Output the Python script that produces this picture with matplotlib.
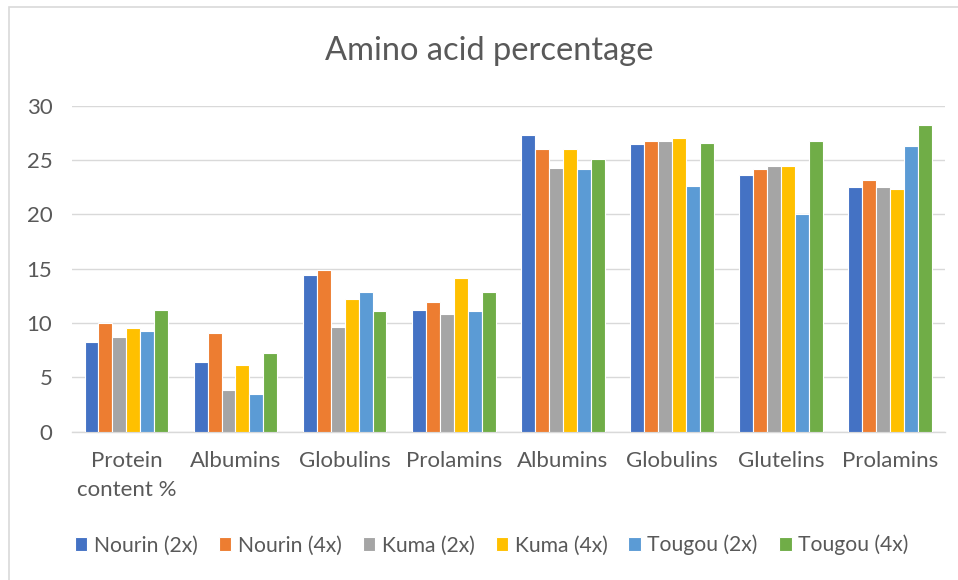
import matplotlib
matplotlib.use("Agg")
import matplotlib.pyplot as plt
from matplotlib.patches import Rectangle
import numpy as np

plt.rcParams['font.family'] = ['Lato', 'DejaVu Sans']

categories = ["Protein\ncontent %", "Albumins", "Globulins", "Prolamins",
              "Albumins", "Globulins", "Glutelins", "Prolamins"]

series_names = ["Nourin (2x)", "Nourin (4x)", "Kuma (2x)",
                "Kuma (4x)", "Tougou (2x)", "Tougou (4x)"]

nourin_2x = [8.25, 6.4, 14.4, 11.2, 27.3, 26.45, 23.6, 22.55]
nourin_4x = [10.0, 9.1, 14.85, 11.9, 26.0, 26.8, 24.2, 23.15]
kuma_2x = [8.7, 3.8, 9.65, 10.85, 24.3, 26.8, 24.45, 22.55]
kuma_4x = [9.55, 6.1, 12.25, 14.15, 26.0, 27.0, 24.45, 22.3]
tougou_2x = [9.3, 3.5, 12.85, 11.1, 24.2, 22.65, 20.05, 26.3]
tougou_4x = [11.2, 7.2, 11.1, 12.85, 25.1, 26.55, 26.8, 28.2]

series_values = [nourin_2x, nourin_4x, kuma_2x, kuma_4x, tougou_2x, tougou_4x]
colors = ["#4472C4", "#ED7D31", "#A5A5A5", "#FFC000", "#5B9BD5", "#70AD47"]

text_color = "#595959"
grid_color = "#D9D9D9"

fig = plt.figure(figsize=(9.58, 5.8), dpi=100)
ax = fig.add_axes([0.075, 0.2557, 0.911, 0.562])

x = np.arange(len(categories))
bar_w = 0.128
n = len(series_values)
for i, (name, vals, c) in enumerate(zip(series_names, series_values, colors)):
    offs = (i - (n - 1) / 2) * bar_w
    ax.bar(x + offs, vals, width=bar_w, color=c, edgecolor="white",
           linewidth=0.8, label=name, zorder=3)

ax.set_xlim(-0.5, len(categories) - 0.5)
ax.set_ylim(0, 30)
ax.set_yticks(np.arange(0, 31, 5))
ax.grid(axis="y", color=grid_color, linewidth=1.0, zorder=0)
for s in ["top", "right", "left"]:
    ax.spines[s].set_visible(False)
ax.spines["bottom"].set_color(grid_color)
ax.spines["bottom"].set_linewidth(1.0)
ax.tick_params(axis="both", length=0, labelsize=16, labelcolor=text_color)
ax.tick_params(axis="y", pad=14)
ax.tick_params(axis="x", pad=14)
ax.set_xticks(x)
ax.set_xticklabels(categories, linespacing=1.55)

fig.text(0.511, 0.912, "Amino acid percentage", ha="center", va="center",
         fontsize=23.5, color=text_color)

leg = fig.legend(loc="center", bbox_to_anchor=(0.513, 0.06), ncol=6,
                 frameon=False, fontsize=15.2, labelcolor=text_color,
                 handlelength=0.6, handleheight=0.6, handletextpad=0.3,
                 columnspacing=1.0)

# outer chart border
fig.patches.append(Rectangle((9 / 958, -0.05), 1.1, 1.05 - 7 / 580,
                             transform=fig.transFigure, fill=False,
                             edgecolor=grid_color, linewidth=1.2))

fig.savefig("out.png", dpi=100)
